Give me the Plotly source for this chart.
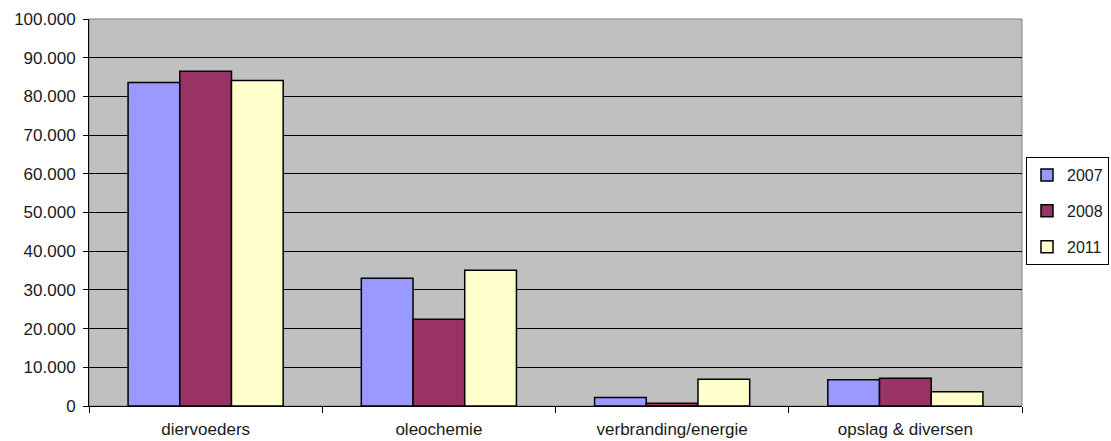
import plotly.graph_objects as go

categories = ["diervoeders", "oleochemie", "verbranding/energie", "opslag & diversen"]
years = ["2007", "2008", "2011"]
values_2007 = [83600, 33000, 2200, 6800]
values_2008 = [86500, 22400, 700, 7200]
values_2011 = [84100, 35100, 6900, 3700]
series = [values_2007, values_2008, values_2011]
colors = ["#9999FF", "#993366", "#FFFFCC"]

font_family = "Liberation Sans, Arial, sans-serif"

fig = go.Figure()
for year, vals, col in zip(years, series, colors):
    fig.add_trace(go.Bar(
        x=categories, y=vals, name=year,
        marker=dict(color=col, line=dict(color="black", width=1.5)),
        legendgroup=year,
    ))

fig.update_layout(
    width=1111, height=441,
    margin=dict(l=89, r=89, t=19, b=35, autoexpand=False),
    paper_bgcolor="white",
    plot_bgcolor="#C0C0C0",
    barmode="group",
    bargap=0.335,
    bargroupgap=0,
    separators=",.",
    font=dict(family=font_family, size=17, color="#1a1a1a"),
    showlegend=True,
    legend=dict(
        x=(1109 - 89) / 933, y=0.643, xanchor="right", yanchor="top",
        bgcolor="white", bordercolor="black", borderwidth=1,
        font=dict(size=16),
        tracegroupgap=12,
        traceorder="grouped",
        itemwidth=30,
    ),
    xaxis=dict(
        showgrid=False,
        tickson="boundaries",
        ticks="outside", ticklen=6, tickcolor="black",
        showline=True, linecolor="black", linewidth=1,
        tickfont=dict(size=17),
        ticklabelstandoff=8,
    ),
    yaxis=dict(
        range=[0, 100000], dtick=10000, tick0=0,
        tickformat=",.0f",
        showgrid=True, gridcolor="black", gridwidth=1,
        ticks="outside", ticklen=5, tickcolor="black",
        showline=True, linecolor="black", linewidth=1,
        zeroline=False,
        tickfont=dict(size=17),
        ticklabelstandoff=4,
    ),
)

# gray frame around the plot area
fig.add_shape(type="rect", xref="paper", yref="paper", x0=0, y0=0, x1=1, y1=1,
              line=dict(color="#808080", width=1), layer="below")

fig.write_html("out.html")
